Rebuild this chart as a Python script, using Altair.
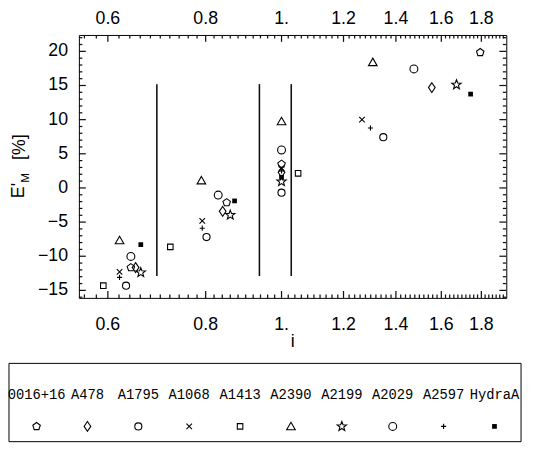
import altair as alt
import pandas as pd
import numpy as np

# ---------------- data ----------------
objects = ["0016+16", "A478", "A1795", "A1068", "A1413",
           "A2390", "A2199", "A2029", "A2597", "HydraA"]

i_0016 = [0.642, 0.851, 1.0, 1.794]
E_0016 = [-11.66, -2.14, 3.49, 19.84]
i_A478 = [0.651, 0.841, 1.0, 1.556]
E_A478 = [-11.66, -3.43, 2.28, 14.69]
i_A1795 = [0.633, 0.802, 1.0, 1.349]
E_A1795 = [-14.31, -7.19, -0.69, 7.43]
i_A1068 = [0.621, 0.792, 1.0, 1.267]
E_A1068 = [-12.29, -4.83, 2.91, 9.99]
i_A1413 = [0.592, 0.721, 1.05]
E_A1413 = [-14.31, -8.63, 2.14]
i_A2390 = [0.621, 0.790, 1.0, 1.308]
E_A2390 = [-7.68, 1.08, 9.74, 18.40]
i_A2199 = [0.661, 0.860, 1.0, 1.673]
E_A2199 = [-12.38, -3.97, 0.94, 15.12]
i_A2029 = [0.642, 0.830, 1.0, 1.476]
E_A2029 = [-10.03, -1.04, 5.56, 17.43]
i_A2597 = [0.621, 0.792, 1.0, 1.299]
E_A2597 = [-13.10, -5.89, 2.50, 8.77]
i_Hydra = [0.661, 0.871, 1.0, 1.744]
E_Hydra = [-8.30, -1.90, 1.56, 13.74]

line_i = [0.693, 0.937, 1.029]
line_lo = [-12.9, -12.9, -12.9]
line_hi = [15.2, 15.2, 15.2]

x_major = [0.6, 0.8, 1.0, 1.2, 1.4, 1.6, 1.8]
x_labels = ["0.6", "0.8", "1.", "1.2", "1.4", "1.6", "1.8"]
y_major = [-15, -10, -5, 0, 5, 10, 15, 20]
y_labels = ["\u221215", "\u221210", "\u22125", "0", "5", "10", "15", "20"]

i_lists = [i_0016, i_A478, i_A1795, i_A1068, i_A1413, i_A2390, i_A2199, i_A2029, i_A2597, i_Hydra]
E_lists = [E_0016, E_A478, E_A1795, E_A1068, E_A1413, E_A2390, E_A2199, E_A2029, E_A2597, E_Hydra]

rows = []
for obj, ii, ee in zip(objects, i_lists, E_lists):
    for a, b in zip(ii, ee):
        rows.append({"obj": obj, "i": a, "E": b})
df = pd.DataFrame(rows)
df_open = df[df.obj != "HydraA"]
df_fill = df[df.obj == "HydraA"]

# ---------------- scales / frame geometry ----------------
W, H = 434, 267
X_DOM = [0.551, 1.937]
Y_DOM = [-16.1, 22.4]
xs = alt.Scale(type="log", domain=X_DOM, nice=False)
ys = alt.Scale(domain=Y_DOM, nice=False, zero=False)
px_per_ln = W / np.log(X_DOM[1] / X_DOM[0])
y_per_px = (Y_DOM[1] - Y_DOM[0]) / H

x_minor = [float(round(v, 2)) for v in np.arange(0.56, 1.93, 0.02) if all(abs(v - m) > 1e-6 for m in x_major)]
y_minor = [float(v) for v in range(-16, 23) if v % 5 != 0]

# one table of line segments: the three vertical lines plus the frame ticks
seg = []
for xi, lo, hi in zip(line_i, line_lo, line_hi):
    seg.append((xi, xi, lo, hi, 1.6))
for vals, L in ((x_major, 7), (x_minor, 3.5)):
    for v in vals:
        seg.append((v, v, Y_DOM[0], Y_DOM[0] + L * y_per_px, 1.25))
        seg.append((v, v, Y_DOM[1], Y_DOM[1] - L * y_per_px, 1.25))
for vals, L in ((y_major, 7), (y_minor, 3.5)):
    for v in vals:
        seg.append((X_DOM[0], float(X_DOM[0] * np.exp(L / px_per_ln)), v, v, 1.25))
        seg.append((X_DOM[1], float(X_DOM[1] * np.exp(-L / px_per_ln)), v, v, 1.25))
df_seg = pd.DataFrame(seg, columns=["x0", "x1", "y0", "y1", "sw"])


def X(f):
    return alt.X(f, type="quantitative", scale=xs, axis=None)


def Y(f):
    return alt.Y(f, type="quantitative", scale=ys, axis=None)


segments = alt.Chart(df_seg).mark_rule(color="#111111").encode(
    x=X("x0"), x2="x1", y=Y("y0"), y2="y1",
    strokeWidth=alt.StrokeWidth("sw:Q", scale=None))

df_xmaj = pd.DataFrame({"v": x_major, "lab": x_labels})
df_ymaj = pd.DataFrame({"v": y_major, "lab": y_labels})

# ---------------- symbol shapes ----------------
def poly(pts):
    return "M" + "L".join(f"{x:.3f},{y:.3f}" for x, y in pts) + "Z"


def circ(r):
    return f"M{r},0A{r},{r},0,1,1,{-r},0A{r},{r},0,1,1,{r},0Z"


pent = poly([(np.cos(np.radians(-90 + 72 * k)), np.sin(np.radians(-90 + 72 * k))) for k in range(5)])
star_pts = []
for k in range(10):
    rr = 1.25 if k % 2 == 0 else 0.52
    a = np.radians(-90 + 36 * k)
    star_pts.append((rr * np.cos(a), rr * np.sin(a)))
star = poly(star_pts)
diamond = "M0,-1.25L0.85,0L0,1.25L-0.85,0Z"
xmark = "M-0.7,-0.7L0.7,0.7M-0.7,0.7L0.7,-0.7"
plus = "M-0.65,0L0.65,0M0,-0.65L0,0.65"
square = "M-0.7,-0.7L0.7,-0.7L0.7,0.7L-0.7,0.7Z"
triangle = "M0,-1.05L1.1,0.85L-1.1,0.85Z"
fsquare = "M-0.6,-0.6L0.6,-0.6L0.6,0.6L-0.6,0.6Z"

shape_range = [pent, diamond, circ(0.9), xmark, square, triangle, star, circ(1.0), plus, fsquare]
shape_scale = alt.Scale(domain=objects, range=shape_range)

FONT = "Liberation Sans"

top_lab = alt.Chart(df_xmaj).mark_text(font=FONT, fontSize=18, baseline="middle", color="black").encode(
    x=X("v"), y=alt.value(-16), text="lab:N")
bot_lab = alt.Chart(df_xmaj).mark_text(font=FONT, fontSize=18, baseline="middle", color="black").encode(
    x=X("v"), y=alt.value(295), text="lab:N")
left_lab = alt.Chart(df_ymaj).mark_text(font=FONT, fontSize=18, baseline="middle", align="right",
                                        color="black").encode(
    x=alt.value(-11), y=Y("v"), text="lab:N")

one = pd.DataFrame({"k": [0]})
xtitle = alt.Chart(one).mark_text(font=FONT, fontSize=18, text="i", color="black").encode(
    x=alt.value(217), y=alt.value(312))
ytitle_E = alt.Chart(one).mark_text(font=FONT, fontSize=18, text="E'", angle=270, color="black").encode(
    x=alt.value(-61), y=alt.value(158))
ytitle_M = alt.Chart(one).mark_text(font=FONT, fontSize=12, text="M", angle=270, color="black").encode(
    x=alt.value(-55), y=alt.value(145))
ytitle_P = alt.Chart(one).mark_text(font=FONT, fontSize=18, text="[%]", angle=270, color="black").encode(
    x=alt.value(-60), y=alt.value(114))

pts_open = alt.Chart(df_open).mark_point(filled=False, size=64, strokeWidth=1.1, opacity=1, color="black").encode(
    x=X("i"), y=Y("E"), shape=alt.Shape("obj:N", scale=shape_scale, legend=None))
pts_fill = alt.Chart(df_fill).mark_point(filled=True, size=64, opacity=1, color="black").encode(
    x=X("i"), y=Y("E"), shape=alt.Shape("obj:N", scale=shape_scale, legend=None))

# ---------------- legend box ----------------
df_leg = pd.DataFrame({"obj": objects})
lx = alt.X("obj:N", scale=alt.Scale(type="point", domain=objects, range=[-43, 422], padding=0), axis=None)

leg_box = alt.Chart(one).mark_rect(fill="transparent", stroke="black", strokeWidth=1).encode(
    x=alt.value(-71), x2=alt.value(449), y=alt.value(333.5), y2=alt.value(413))
leg_text = alt.Chart(df_leg).mark_text(font="Liberation Mono", fontSize=14, baseline="middle",
                                       color="black").encode(
    x=lx, y=alt.value(366), text="obj:N")
leg_open = alt.Chart(df_leg[df_leg.obj != "HydraA"]).mark_point(
    filled=False, size=64, strokeWidth=1.1, opacity=1, color="black").encode(
    x=lx, y=alt.value(397.5), shape=alt.Shape("obj:N", scale=shape_scale, legend=None))
leg_fill = alt.Chart(df_leg[df_leg.obj == "HydraA"]).mark_point(
    filled=True, size=64, opacity=1, color="black").encode(
    x=lx, y=alt.value(397.5), shape=alt.Shape("obj:N", scale=shape_scale, legend=None))

chart = alt.layer(
    segments, pts_open, pts_fill, top_lab, bot_lab, left_lab,
    xtitle, ytitle_E, ytitle_M, ytitle_P,
    leg_box, leg_text, leg_open, leg_fill,
).resolve_scale(x="independent").properties(
    width=W, height=H,
    padding={"left": 72, "top": 24, "right": 19, "bottom": 146},
    autosize=alt.AutoSizeParams(type="none"),
).configure_view(stroke="black", strokeWidth=1)

chart.save("out.html", embed_options={"renderer": "svg", "actions": False})
